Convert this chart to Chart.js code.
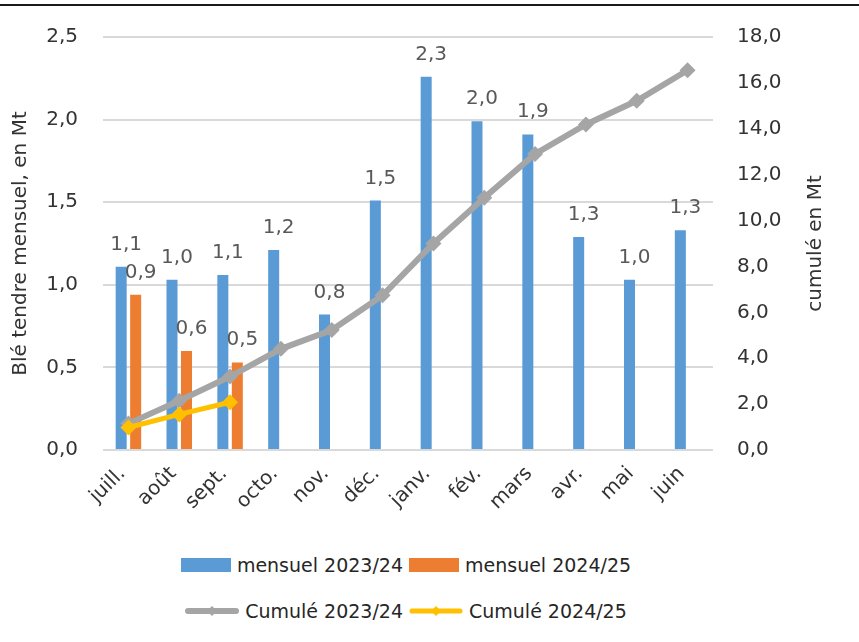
<!DOCTYPE html>
<html lang="fr">
<head>
<meta charset="utf-8">
<title>Blé tendre mensuel</title>
<script src="https://cdn.jsdelivr.net/npm/chart.js@4"></script>
<style>
  html, body { margin:0; padding:0; background:#fff; }
  #wrap { position:relative; width:859px; height:642px; overflow:hidden; font-family:"DejaVu Sans", sans-serif; }
  #topline { position:absolute; left:0; top:4px; width:859px; height:2px; background:#1a1a1a; }
  #chart { position:absolute; left:0; top:0; }
  #legend { position:absolute; left:0; top:547px; width:812px; font-size:19px; color:#262626; }
  .row { display:flex; justify-content:center; align-items:center; height:36px; margin-bottom:10px; }
  .item { display:flex; align-items:center; margin:0 3px; }
  .item span { margin-left:6px; white-space:nowrap; }
  .box { width:50px; height:14px; }
</style>
</head>
<body>
<div id="wrap">
  <div id="topline"></div>
  <canvas id="chart" width="859" height="540"></canvas>
  <div id="legend"></div>
</div>
<script>
// ---------- Data ----------
const months = ['juill.', 'août', 'sept.', 'octo.', 'nov.', 'déc.', 'janv.', 'fév.', 'mars', 'avr.', 'mai', 'juin'];
const mensuel2324 = [1.11, 1.03, 1.06, 1.21, 0.82, 1.51, 2.26, 1.99, 1.91, 1.29, 1.03, 1.33];
const mensuel2425 = [0.94, 0.60, 0.53, null, null, null, null, null, null, null, null, null];
const cumul2324 = [1.15, 2.15, 3.2, 4.41, 5.23, 6.74, 9.0, 10.99, 12.9, 14.19, 15.22, 16.55];
const cumul2425 = [0.98, 1.55, 2.08, null, null, null, null, null, null, null, null, null];

const BLUE = '#5B9BD5', ORANGE = '#ED7D31', GRAY = '#A5A5A5', YELLOW = '#FFC000';
const FONT = '"DejaVu Sans", sans-serif';
const TXT = '#333333';

const fmt = v => v.toFixed(1).replace('.', ',');

// value labels above the bars
const barLabels = {
  id: 'barLabels',
  afterDatasetsDraw(chart){
    const ctx = chart.ctx;
    ctx.save();
    ctx.font = '20px ' + FONT;
    ctx.fillStyle = '#595959';
    ctx.textAlign = 'center';
    ctx.textBaseline = 'alphabetic';
    chart.data.datasets.forEach((ds, i) => {
      if(ds.type !== 'bar') return;
      chart.getDatasetMeta(i).data.forEach((el, j) => {
        const v = ds.data[j];
        if(v == null) return;
        ctx.fillText(fmt(v), el.x + 5, el.y - 17);
      });
    });
    ctx.restore();
  }
};

// right axis title reads bottom to top, like the left one
const rightTitle = {
  id: 'rightTitle',
  afterDraw(chart){
    const s = chart.scales.y1;
    const ctx = chart.ctx;
    ctx.save();
    ctx.font = '20px ' + FONT;
    ctx.fillStyle = TXT;
    ctx.textAlign = 'center';
    ctx.textBaseline = 'middle';
    ctx.translate(s.right - 43, (s.top + s.bottom) / 2);
    ctx.rotate(-Math.PI / 2);
    ctx.fillText('cumulé en Mt', 0, 0);
    ctx.restore();
  }
};

const datasets = [
  { type:'line', label:'Cumulé 2024/25', data:cumul2425, yAxisID:'y1', order:0,
    borderColor:YELLOW, backgroundColor:YELLOW, borderWidth:5, tension:0,
    pointStyle:'rectRot', pointRadius:8, pointBorderWidth:0, pointBackgroundColor:YELLOW },
  { type:'line', label:'Cumulé 2023/24', data:cumul2324, yAxisID:'y1', order:1,
    borderColor:GRAY, backgroundColor:GRAY, borderWidth:6, tension:0,
    pointStyle:'rectRot', pointRadius:8, pointBorderWidth:0, pointBackgroundColor:GRAY },
  { type:'bar', label:'mensuel 2023/24', data:mensuel2324, yAxisID:'y', order:2,
    backgroundColor:BLUE, categoryPercentage:0.57, barPercentage:0.76 },
  { type:'bar', label:'mensuel 2024/25', data:mensuel2425, yAxisID:'y', order:3,
    backgroundColor:ORANGE, categoryPercentage:0.57, barPercentage:0.76 }
];

const chart = new Chart(document.getElementById('chart').getContext('2d'), {
  data: { labels: months, datasets },
  options: {
    responsive:false,
    animation:false,
    layout:{ padding:{ top:36, left:0, right:0, bottom:0 } },
    plugins:{ legend:{display:false}, tooltip:{enabled:false} },
    scales:{
      x:{
        grid:{display:false},
        border:{display:false},
        ticks:{ color:TXT, font:{family:FONT, size:20}, minRotation:45, maxRotation:45, padding:4, labelOffset:-6 },
        afterFit: s => { s.height = 90; }
      },
      y:{
        position:'left', min:0, max:2.5,
        grid:{ color:'#D9D9D9', lineWidth:2, drawTicks:false },
        border:{display:false},
        ticks:{ stepSize:0.5, padding:25, color:TXT, font:{family:FONT, size:20}, callback: v => fmt(v) },
        title:{ display:true, text:'Blé tendre mensuel, en Mt', color:TXT, font:{family:FONT, size:20}, padding:{top:9, bottom:0} },
        afterFit: s => { s.width = 103; }
      },
      y1:{
        position:'right', min:0, max:18,
        grid:{ display:false, drawTicks:false },
        border:{display:false},
        ticks:{ stepSize:2, padding:24, color:TXT, font:{family:FONT, size:20}, callback: v => fmt(v) },
        afterFit: s => { s.width = 146; }
      }
    }
  },
  plugins:[barLabels, rightTitle]
});

// ---------- Legend (two rows, as in the original) ----------
function lineMarker(color, w){
  return `<svg width="54" height="16" viewBox="0 0 54 16">
    <line x1="3" y1="8" x2="51" y2="8" stroke="${color}" stroke-width="${w}" stroke-linecap="round"/>
    <polygon points="27,3 32,8 27,13 22,8" fill="${color}"/></svg>`;
}
const legendRows = [
  [ {text:'mensuel 2023/24', html:`<div class="box" style="background:${BLUE}"></div>`},
    {text:'mensuel 2024/25', html:`<div class="box" style="background:${ORANGE}"></div>`} ],
  [ {text:'Cumulé 2023/24', html:lineMarker(GRAY, 6)},
    {text:'Cumulé 2024/25', html:lineMarker(YELLOW, 5)} ]
];
const legend = document.getElementById('legend');
legendRows.forEach(r => {
  const row = document.createElement('div');
  row.className = 'row';
  r.forEach(it => {
    const d = document.createElement('div');
    d.className = 'item';
    d.innerHTML = it.html + `<span>${it.text}</span>`;
    row.appendChild(d);
  });
  legend.appendChild(row);
});
</script>
</body>
</html>
